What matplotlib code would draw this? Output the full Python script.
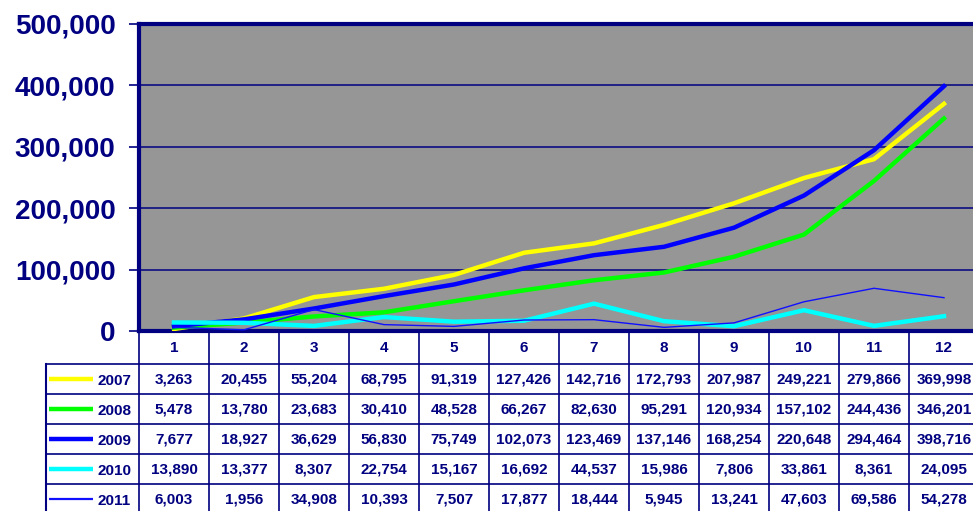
import matplotlib
matplotlib.use("Agg")
import matplotlib.pyplot as plt
from matplotlib.ticker import FuncFormatter

NAVY = "#000080"

months = list(range(1, 13))
years = ["2007", "2008", "2009", "2010", "2011"]
v2007 = [3263, 20455, 55204, 68795, 91319, 127426, 142716, 172793, 207987, 249221, 279866, 369998]
v2008 = [5478, 13780, 23683, 30410, 48528, 66267, 82630, 95291, 120934, 157102, 244436, 346201]
v2009 = [7677, 18927, 36629, 56830, 75749, 102073, 123469, 137146, 168254, 220648, 294464, 398716]
v2010 = [13890, 13377, 8307, 22754, 15167, 16692, 44537, 15986, 7806, 33861, 8361, 24095]
v2011 = [6003, 1956, 34908, 10393, 7507, 17877, 18444, 5945, 13241, 47603, 69586, 54278]
series = [v2007, v2008, v2009, v2010, v2011]
colors = ["#ffff00", "#00ff00", "#0000ff", "#00ffff", "#1010ff"]
widths = [3.2, 3.2, 3.2, 3.2, 1.0]
yticks = [0, 100000, 200000, 300000, 400000, 500000]

W, H = 973, 511
fig = plt.figure(figsize=(W / 100, H / 100), dpi=100)
fig.patch.set_facecolor("white")

# plot area runs off the right edge like the original
x0, x1, ytop, ybot = 139, 979, 24, 331
ax = fig.add_axes([x0 / W, (H - ybot) / H, (x1 - x0) / W, (ybot - ytop) / H])
ax.set_facecolor("#969696")
for s, c, lw in zip(series, colors, widths):
    ax.plot(months, s, color=c, lw=lw, solid_joinstyle="miter", zorder=3)
ax.set_xlim(0.5, 12.5)
ax.set_ylim(0, 500000)
ax.set_yticks(yticks)
ax.yaxis.set_major_formatter(FuncFormatter(lambda v, p: "{:,.0f}".format(v)))
ax.tick_params(axis="y", colors=NAVY, length=7, width=1.2, pad=10, labelsize=20)
for lab in ax.get_yticklabels():
    lab.set_fontweight("bold")
    lab.set_fontfamily("Liberation Sans")
ax.set_xticks([])
ax.grid(axis="y", color=NAVY, lw=1.1, zorder=1)
ax.set_axisbelow(True)
for side in ["top", "left", "bottom", "right"]:
    ax.spines[side].set_color(NAVY)
    ax.spines[side].set_linewidth(3)

# data table underneath, sharing the month scale
xl = 46
col_w = (x1 - x0) / 12.0
tx_left = 0.5 - (x0 - xl) / col_w
tax = fig.add_axes([xl / W, 0, (x1 - xl) / W, (H - ybot) / H])
unit = 30.0
bottom = (H - ybot) / unit
tax.set_xlim(tx_left, 12.5)
tax.set_ylim(bottom, 0)
tax.axis("off")

hdr = 1.1
font = dict(family="Liberation Sans", fontweight="bold", fontsize=11, color=NAVY)
for m in months:
    tax.text(m, hdr / 2, str(m), ha="center", va="center", **font)

nrows = len(years)
for r in range(nrows + 1):
    y = hdr + r
    if y <= bottom:
        tax.plot([tx_left, 12.5], [y, y], color=NAVY, lw=1.2, clip_on=False)
for k in range(13):
    xv = 0.5 + k
    tax.plot([xv, xv], [0, bottom], color=NAVY, lw=1.2, clip_on=False)
tax.plot([tx_left, tx_left], [hdr, bottom], color=NAVY, lw=1.5, clip_on=False)

for r, (yr, s, c, lw) in enumerate(zip(years, series, colors, widths)):
    yc = hdr + r + 0.5
    kx0 = tx_left + 3 / col_w
    kx1 = tx_left + 47 / col_w
    tax.plot([kx0, kx1], [yc, yc], color=c, lw=lw + 0.6 if lw < 2 else lw, clip_on=False,
             solid_capstyle="butt")
    tax.text(tx_left + 51 / col_w, yc + 0.08, yr, ha="left", va="center", **font)
    for m, v in zip(months, s):
        tax.text(m, yc, "{:,}".format(v), ha="center", va="center", **font)

fig.savefig("out.png", dpi=100)
